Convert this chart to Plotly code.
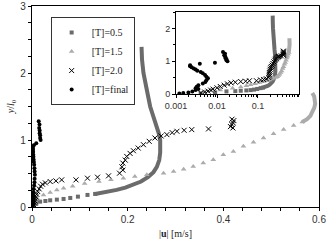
import plotly.graph_objects as go

# ---- data ----
# [T]=0.5 : sparse squares near the bottom, then a dense (line-like) profile
t05_sq_x = [0.004, 0.009, 0.017, 0.028, 0.038, 0.052, 0.066, 0.080, 0.096, 0.116, 0.132]
t05_sq_y = [0.02, 0.05, 0.08, 0.09, 0.10, 0.11, 0.12, 0.135, 0.155, 0.18, 0.195]
t05_ln_x = [0.132, 0.142, 0.160, 0.177, 0.195, 0.212, 0.228, 0.243, 0.254, 0.261, 0.266, 0.268, 0.268, 0.265, 0.261, 0.254, 0.247, 0.240, 0.233, 0.230, 0.229]
t05_ln_y = [0.195, 0.205, 0.23, 0.255, 0.29, 0.33, 0.38, 0.45, 0.52, 0.60, 0.70, 0.81, 1.00, 1.10, 1.20, 1.35, 1.50, 1.75, 2.00, 2.20, 2.39]

# [T]=1.5 : triangles, dense at the top
t15_x = [0.005, 0.012, 0.024, 0.038, 0.052, 0.066, 0.085, 0.110, 0.140, 0.165, 0.191, 0.215, 0.240, 0.275,
         0.296, 0.317, 0.337, 0.358, 0.379, 0.400, 0.421, 0.442, 0.463, 0.484, 0.505, 0.526, 0.547, 0.565]
t15_y = [0.06, 0.12, 0.18, 0.215, 0.255, 0.28, 0.31, 0.35, 0.38, 0.405, 0.43, 0.455, 0.48, 0.505,
         0.53, 0.565, 0.605, 0.655, 0.705, 0.78, 0.83, 0.905, 0.965, 1.03, 1.095, 1.155, 1.215, 1.27]
t15_top_x = [0.565, 0.575, 0.582, 0.587, 0.590, 0.592, 0.592, 0.590, 0.586]
t15_top_y = [1.27, 1.31, 1.36, 1.42, 1.48, 1.54, 1.60, 1.65, 1.70]

# [T]=2.0 : crosses
t20_x = [0.004, 0.005, 0.006, 0.007, 0.008, 0.010, 0.012, 0.015, 0.018, 0.022, 0.028, 0.038, 0.050, 0.062,
         0.092, 0.116, 0.137, 0.160, 0.183, 0.190, 0.188, 0.190, 0.195, 0.198, 0.205, 0.212, 0.222, 0.233,
         0.245, 0.257, 0.270, 0.282, 0.293, 0.303, 0.318, 0.334, 0.369, 0.415, 0.418, 0.420, 0.422, 0.418, 0.420]
t20_y = [0.03, 0.06, 0.09, 0.12, 0.15, 0.19, 0.23, 0.27, 0.31, 0.34, 0.36, 0.38, 0.39, 0.405,
         0.405, 0.43, 0.445, 0.465, 0.505, 0.55, 0.60, 0.655, 0.70, 0.755, 0.80, 0.84, 0.88, 0.93,
         0.98, 1.03, 1.06, 1.08, 1.11, 1.13, 1.145, 1.155, 1.165, 1.20, 1.23, 1.26, 1.29, 1.31, 1.18]

# [T]=final : dots
tf_x = [0.0012, 0.0015, 0.0020, 0.0025, 0.0030, 0.0035, 0.0030, 0.0032, 0.0035, 0.0045, 0.0052, 0.0055,
        0.0060, 0.0055, 0.0051, 0.0045, 0.0040, 0.0033, 0.0030, 0.0027, 0.0024, 0.0022, 0.0022, 0.0038,
        0.0089, 0.0180, 0.0170, 0.0170, 0.0160, 0.0160, 0.0150, 0.0157, 0.0140]
tf_y = [0.02, 0.03, 0.05, 0.08, 0.12, 0.15, 0.18, 0.22, 0.27, 0.32, 0.37, 0.42,
        0.48, 0.53, 0.58, 0.63, 0.67, 0.71, 0.75, 0.78, 0.82, 0.85, 0.88, 0.92,
        0.95, 1.00, 1.03, 1.07, 1.10, 1.14, 1.18, 1.23, 1.28]

names = ["[T]=0.5", "[T]=1.5", "[T]=2.0", "[T]=final"]
main_x_ticks = [0, 0.2, 0.4, 0.6]
main_y_ticks = [0, 1, 2, 3]
inset_x_ticks = [0.001, 0.01, 0.1]
inset_x_labels = ["0.001", "0.01", "0.1"]
inset_y_ticks = [0, 1, 2]

DARK = "#6b6b6b"
LIGHT = "#ababab"

fig = go.Figure()


def add_series(xa, ya, legend):
    fig.add_trace(go.Scatter(x=t05_ln_x, y=t05_ln_y, mode="lines", line=dict(color=DARK, width=4),
                             showlegend=False, xaxis=xa, yaxis=ya, hoverinfo="skip"))
    fig.add_trace(go.Scatter(x=t05_sq_x, y=t05_sq_y, mode="markers", name=names[0],
                             marker=dict(symbol="square", size=4, color=DARK),
                             showlegend=legend, xaxis=xa, yaxis=ya))
    fig.add_trace(go.Scatter(x=t15_top_x, y=t15_top_y, mode="lines", line=dict(color=LIGHT, width=4),
                             showlegend=False, xaxis=xa, yaxis=ya, hoverinfo="skip"))
    fig.add_trace(go.Scatter(x=t15_x, y=t15_y, mode="markers", name=names[1],
                             marker=dict(symbol="triangle-up", size=5, color=LIGHT),
                             showlegend=legend, xaxis=xa, yaxis=ya))
    fig.add_trace(go.Scatter(x=t20_x, y=t20_y, mode="markers", name=names[2],
                             marker=dict(symbol="x-thin-open", size=5, color="black",
                                         line=dict(width=1, color="black")),
                             showlegend=legend, xaxis=xa, yaxis=ya))
    fig.add_trace(go.Scatter(x=tf_x, y=tf_y, mode="markers", name=names[3],
                             marker=dict(symbol="circle", size=4, color="black"),
                             showlegend=legend, xaxis=xa, yaxis=ya))


add_series("x", "y", True)
add_series("x2", "y2", False)

SANS = "Liberation Sans, Arial, sans-serif"
SERIF = "Liberation Serif, Times New Roman, serif"
tickfont = dict(family=SANS, size=10, color="#333")
axis_common = dict(showline=True, linecolor="black", linewidth=1.2, mirror=True, showgrid=False,
                   zeroline=False, ticks="outside", ticklen=3, tickcolor="black", automargin=False)

fig.update_layout(
    width=327, height=244,
    margin=dict(l=32, r=8, t=6, b=37),
    paper_bgcolor="white", plot_bgcolor="white",
    showlegend=True,
    legend=dict(x=0.065, y=0.945, xanchor="left", yanchor="top",
                bordercolor="#333", borderwidth=1, bgcolor="white",
                font=dict(family=SERIF, size=10, color="#222"),
                itemwidth=30, tracegroupgap=0),
    xaxis=dict(range=[0, 0.6], tickvals=main_x_ticks, ticktext=[str(v) for v in main_x_ticks],
               minor=dict(dtick=0.04, ticks="outside", ticklen=3, tickcolor="black"),
               tickfont=tickfont,
               title=dict(text="|<b>u</b>| [m/s]", standoff=5,
                          font=dict(family=SERIF, size=10, color="#222")),
               **axis_common),
    yaxis=dict(range=[0, 3], tickvals=main_y_ticks,
               minor=dict(dtick=0.25, ticks="outside", ticklen=3, tickcolor="black"),
               tickfont=tickfont,
               title=dict(text="<i>y</i>/<i>l</i><sub>0</sub>", standoff=3,
                          font=dict(family=SERIF, size=10, color="#222")),
               **axis_common),
    xaxis2=dict(type="log", domain=[0.502, 0.930], anchor="y2", range=[-3, 0],
                tickvals=inset_x_ticks, ticktext=inset_x_labels,
                minor=dict(ticks="outside", ticklen=2, tickcolor="black", dtick="D1"),
                tickfont=dict(family=SANS, size=9, color="#333"),
                **axis_common),
    yaxis2=dict(domain=[0.562, 0.970], anchor="x2", range=[0, 2.5], tickvals=inset_y_ticks,
                minor=dict(dtick=0.5, ticks="outside", ticklen=2, tickcolor="black"),
                tickfont=dict(family=SANS, size=9, color="#333"),
                **axis_common),
)

fig.write_html("out.html", config={"displayModeBar": False},
               post_script="document.body.style.margin='0';document.body.style.padding='0';")
